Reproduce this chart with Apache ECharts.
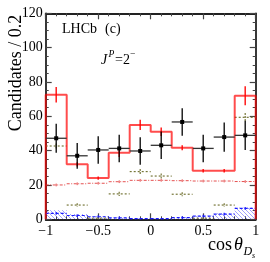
<!DOCTYPE html>
<html><head><meta charset="utf-8">
<script src="https://cdn.jsdelivr.net/npm/echarts@6/dist/echarts.min.js"></script>
<style>html,body{margin:0;padding:0;background:#fff}#c{width:270px;height:262px}</style>
</head><body><div id="c"></div>
<script>
// ---- data ----
const binEdges   = [-1,-0.8,-0.6,-0.4,-0.2,0,0.2,0.4,0.6,0.8,1];
const dataVals   = [47.2,37,40.4,41.3,39.8,43.1,56.7,41.3,47.9,48.9];
const dataErrs   = [8.5,7.5,8,8,8,8,8,8,8.5,8.5];
const fitVals    = [72.5,32,24,38.8,55,51,41.7,28.3,28.3,72];
const fitErrs    = [4.5,1.2,1,2.5,3,2.5,1.5,1,1,5.5];
const oliveVals  = [42.7,8.3,0.6,14.8,27.8,25.2,14.6,0.6,8.3,59.4];
const oliveErrs  = [1.5,1,0.5,1.2,1.5,1.5,1.2,0.5,1,2.5];
const redDashVals= [20,20.7,21,21.9,22.7,22.7,22.5,22.3,22.3,22];
const blueHatch  = [5.3,3.1,1.9,1,0.5,0.5,1.3,2.1,3.5,6.8];
const blueLine   = [3.5,2.2,1.5,0.8,0.4,0.4,1.0,1.8,3.0,6.4];
const xTicks = [-1,-0.5,0,0.5,1];
const yTicks = [0,20,40,60,80,100,120];

const FONT = '"Liberation Serif","Times New Roman",serif';
const bins = binEdges.slice(0,-1).map((lo,i)=>[lo, binEdges[i+1]]);

// hatch pattern
const pc = document.createElement('canvas'); pc.width=4; pc.height=4;
const g = pc.getContext('2d');
g.strokeStyle='rgba(70,70,255,0.5)'; g.lineWidth=1;
g.beginPath(); g.moveTo(0,0); g.lineTo(4,4); g.moveTo(-1,3); g.lineTo(1,5); g.moveTo(3,-1); g.lineTo(5,1); g.stroke();

function stepData(vals){
  const d=[[binEdges[0],0]];
  vals.forEach((v,i)=>{ d.push([binEdges[i],v]); d.push([binEdges[i+1],v]); });
  d.push([binEdges[binEdges.length-1],0]);
  return d;
}
function binData(vals, errs){ return bins.map((b,i)=>[b[0],b[1],vals[i],errs?errs[i]:0]); }

function errRender(opt){
  return function(params, api){
    const lo=api.value(0), hi=api.value(1), v=api.value(2), e=api.value(3), c=(lo+hi)/2;
    const L=api.coord([lo,v]), R=api.coord([hi,v]), T=api.coord([c,v+e]), B=api.coord([c,v-e]), C=api.coord([c,v]);
    const ch=[];
    if(opt.horiz) ch.push({type:'line',shape:{x1:L[0],y1:L[1],x2:R[0],y2:R[1]},style:{stroke:opt.hcolor||opt.color,lineWidth:opt.lw,lineDash:opt.dash||null}});
    ch.push({type:'line',shape:{x1:T[0],y1:T[1],x2:B[0],y2:B[1]},style:{stroke:opt.color,lineWidth:opt.lw,lineDash:opt.vdash||null}});
    if(opt.marker) ch.push({type:'rect',shape:{x:C[0]-2,y:C[1]-2,width:4,height:4},style:{fill:opt.color}});
    return {type:'group',children:ch};
  };
}
function hatchRender(params, api){
  const lo=api.value(0), hi=api.value(1), v=api.value(2);
  const A=api.coord([lo,v]), B=api.coord([hi,0]);
  return {type:'rect',shape:{x:A[0],y:A[1],width:B[0]-A[0],height:B[1]-A[1]},style:{fill:{image:pc,repeat:'repeat'},stroke:null}};
}

const axisLine={show:true,onZero:false,lineStyle:{color:'#222',width:1.8}};
const chart = echarts.init(document.getElementById('c'),null,{renderer:'canvas'});
chart.setOption({
  animation:false,
  grid:{left:45.7,right:14.3,top:13.3,bottom:42.7},
  xAxis:[
    {type:'value',min:-1,max:1,interval:0.5,position:'bottom',axisLine,
     axisTick:{inside:true,length:6,lineStyle:{color:'#444',width:1.2}},
     minorTick:{show:true,splitNumber:5,length:3,lineStyle:{color:'#444',width:1}},
     splitLine:{show:false},
     axisLabel:{margin:5,fontFamily:FONT,fontSize:14,color:'#000',formatter:v=>String(v).replace('-','\u2212')}},
    {type:'value',min:-1,max:1,interval:0.5,position:'top',axisLine,
     axisTick:{inside:true,length:6,lineStyle:{color:'#444',width:1.2}},
     minorTick:{show:true,splitNumber:5,length:3,lineStyle:{color:'#444',width:1}},
     splitLine:{show:false},axisLabel:{show:false}}
  ],
  yAxis:[
    {type:'value',min:0,max:120,interval:20,position:'left',axisLine,
     axisTick:{inside:true,length:6,lineStyle:{color:'#444',width:1.2}},
     minorTick:{show:true,splitNumber:4,length:3,lineStyle:{color:'#444',width:1}},
     splitLine:{show:false},
     axisLabel:{margin:3,fontFamily:FONT,fontSize:14,color:'#000'}},
    {type:'value',min:0,max:120,interval:20,position:'right',axisLine,
     axisTick:{inside:true,length:6,lineStyle:{color:'#444',width:1.2}},
     minorTick:{show:true,splitNumber:4,length:3,lineStyle:{color:'#444',width:1}},
     splitLine:{show:false},axisLabel:{show:false}}
  ],
  series:[
    {type:'custom',renderItem:hatchRender,data:binData(blueHatch),encode:{x:[0,1],y:2},z:2},
    {type:'custom',renderItem:errRender({color:'#1a1aff',lw:1.2,horiz:true,dash:[3,2]}),data:binData(blueLine,blueLine.map(v=>Math.min(0.8,v))),encode:{x:[0,1],y:2},z:3},
    {type:'custom',renderItem:errRender({color:'#77773a',lw:1.2,horiz:true,dash:[2,2],vdash:[2,1]}),data:binData(oliveVals,oliveErrs),encode:{x:[0,1],y:2},z:3},
    {type:'custom',renderItem:errRender({color:'rgba(225,50,50,0.85)',lw:1,horiz:true,dash:[3,1.5,1,1.5]}),data:binData(redDashVals,redDashVals.map(()=>0.8)),encode:{x:[0,1],y:2},z:3},
    {type:'line',data:stepData(fitVals),symbol:'none',lineStyle:{color:'rgba(255,0,0,0.7)',width:2},z:4},
    {type:'custom',renderItem:errRender({color:'rgba(255,0,0,0.9)',lw:1.5,horiz:false}),data:binData(fitVals,fitErrs),encode:{x:[0,1],y:2},z:4},
    {type:'custom',renderItem:errRender({color:'#000',hcolor:'#333',lw:1.3,horiz:true,marker:true}),data:binData(dataVals,dataErrs),encode:{x:[0,1],y:2},z:5}
  ],
  graphic:[
    {type:'text',x:62,y:29.5,style:{text:'LHCb',font:'14px '+FONT,fill:'#000',verticalAlign:'middle'}},
    {type:'text',x:105,y:29.5,style:{text:'(c)',font:'14px '+FONT,fill:'#000',verticalAlign:'middle'}},
    {type:'text',x:101,y:60.5,style:{text:'J',font:'italic 14px '+FONT,fill:'#000',verticalAlign:'middle'}},
    {type:'text',x:108.5,y:54.5,style:{text:'P',font:'italic 9.5px '+FONT,fill:'#000',verticalAlign:'middle'}},
    {type:'text',x:115,y:60.5,style:{text:'=2',font:'14px '+FONT,fill:'#000',verticalAlign:'middle'}},
    {type:'text',x:130,y:54.5,style:{text:'\u2212',font:'9.5px '+FONT,fill:'#000',verticalAlign:'middle'}},
    {type:'text',x:16,y:73,rotation:Math.PI/2,style:{text:'Candidates / 0.2',font:'18px '+FONT,fill:'#000',align:'center',verticalAlign:'middle'}},
    {type:'text',x:208,y:245,style:{text:'cos',font:'18px '+FONT,fill:'#000',verticalAlign:'middle'}},
    {type:'text',x:234,y:245,style:{text:'\u03b8',font:'italic 18px '+FONT,fill:'#000',verticalAlign:'middle'}},
    {type:'text',x:243.5,y:252,style:{text:'D',font:'italic 12px '+FONT,fill:'#000',verticalAlign:'middle'}},
    {type:'text',x:252,y:255.5,style:{text:'s',font:'italic 8px '+FONT,fill:'#000',verticalAlign:'middle'}}
  ]
});
</script></body></html>
